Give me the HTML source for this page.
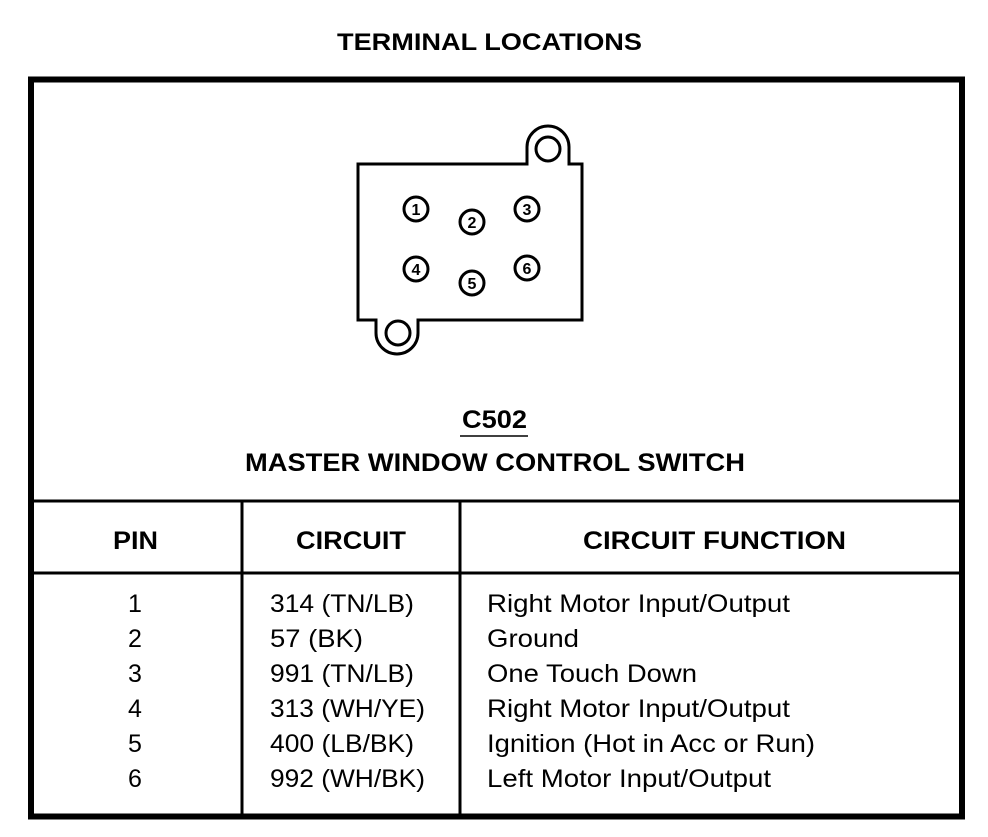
<!DOCTYPE html>
<html><head><style>
body{margin:0;background:#fff;}
svg text{font-family:"Liberation Sans",Arial,sans-serif;fill:#000;}
</style></head><body>
<svg width="988" height="832" viewBox="0 0 988 832" xmlns="http://www.w3.org/2000/svg">
<text x="337" y="50" font-size="24" font-weight="bold" textLength="305" lengthAdjust="spacingAndGlyphs">TERMINAL LOCATIONS</text>
<rect x="31" y="79.5" width="931" height="737" fill="none" stroke="#000" stroke-width="6"/>
<line x1="31" y1="501" x2="962" y2="501" stroke="#000" stroke-width="3"/>
<line x1="31" y1="573" x2="962" y2="573" stroke="#000" stroke-width="3"/>
<line x1="242" y1="501" x2="242" y2="816" stroke="#000" stroke-width="3"/>
<line x1="460" y1="501" x2="460" y2="816" stroke="#000" stroke-width="3"/>
<path d="M358,164 L527,164 L527,147 A21,21 0 0 1 569,147 L569,164 L582,164 L582,320 L418,320 L418,333 A21,21 0 0 1 376,333 L376,320 L358,320 Z" fill="none" stroke="#000" stroke-width="3"/>
<circle cx="548" cy="149" r="12" fill="none" stroke="#000" stroke-width="3"/>
<circle cx="398" cy="333" r="12" fill="none" stroke="#000" stroke-width="3"/>
<g fill="none" stroke="#000" stroke-width="3">
<circle cx="416" cy="209" r="12"/><circle cx="472" cy="222" r="12"/><circle cx="527" cy="209" r="12"/>
<circle cx="416" cy="269" r="12"/><circle cx="472" cy="283" r="12"/><circle cx="527" cy="268" r="12"/>
</g>
<g font-size="16" font-weight="bold" text-anchor="middle">
<text x="416" y="215">1</text><text x="472" y="228">2</text><text x="527" y="215">3</text>
<text x="416" y="275">4</text><text x="472" y="289">5</text><text x="527" y="274">6</text>
</g>
<text x="462" y="428" font-size="25" font-weight="bold" textLength="65" lengthAdjust="spacingAndGlyphs">C502</text>
<line x1="460" y1="436" x2="528" y2="436" stroke="#000" stroke-width="1.5"/>
<text x="245" y="471" font-size="25" font-weight="bold" textLength="500" lengthAdjust="spacingAndGlyphs">MASTER WINDOW CONTROL SWITCH</text>
<g font-size="25" font-weight="bold">
<text x="113" y="549" textLength="45" lengthAdjust="spacingAndGlyphs">PIN</text>
<text x="296" y="549" textLength="110" lengthAdjust="spacingAndGlyphs">CIRCUIT</text>
<text x="583" y="549" textLength="263" lengthAdjust="spacingAndGlyphs">CIRCUIT FUNCTION</text>
</g>
<g font-size="25">
<g text-anchor="middle">
<text x="135" y="612">1</text><text x="135" y="647">2</text><text x="135" y="682">3</text>
<text x="135" y="717">4</text><text x="135" y="752">5</text><text x="135" y="787">6</text>
</g>
<text x="270" y="612" textLength="144" lengthAdjust="spacingAndGlyphs">314 (TN/LB)</text>
<text x="270" y="647" textLength="93" lengthAdjust="spacingAndGlyphs">57 (BK)</text>
<text x="270" y="682" textLength="144" lengthAdjust="spacingAndGlyphs">991 (TN/LB)</text>
<text x="270" y="717" textLength="155" lengthAdjust="spacingAndGlyphs">313 (WH/YE)</text>
<text x="270" y="752" textLength="144" lengthAdjust="spacingAndGlyphs">400 (LB/BK)</text>
<text x="270" y="787" textLength="155" lengthAdjust="spacingAndGlyphs">992 (WH/BK)</text>
<text x="487" y="612" textLength="303" lengthAdjust="spacingAndGlyphs">Right Motor Input/Output</text>
<text x="487" y="647" textLength="92" lengthAdjust="spacingAndGlyphs">Ground</text>
<text x="487" y="682" textLength="210" lengthAdjust="spacingAndGlyphs">One Touch Down</text>
<text x="487" y="717" textLength="303" lengthAdjust="spacingAndGlyphs">Right Motor Input/Output</text>
<text x="487" y="752" textLength="328" lengthAdjust="spacingAndGlyphs">Ignition (Hot in Acc or Run)</text>
<text x="487" y="787" textLength="284" lengthAdjust="spacingAndGlyphs">Left Motor Input/Output</text>
</g>
</svg>
</body></html>
